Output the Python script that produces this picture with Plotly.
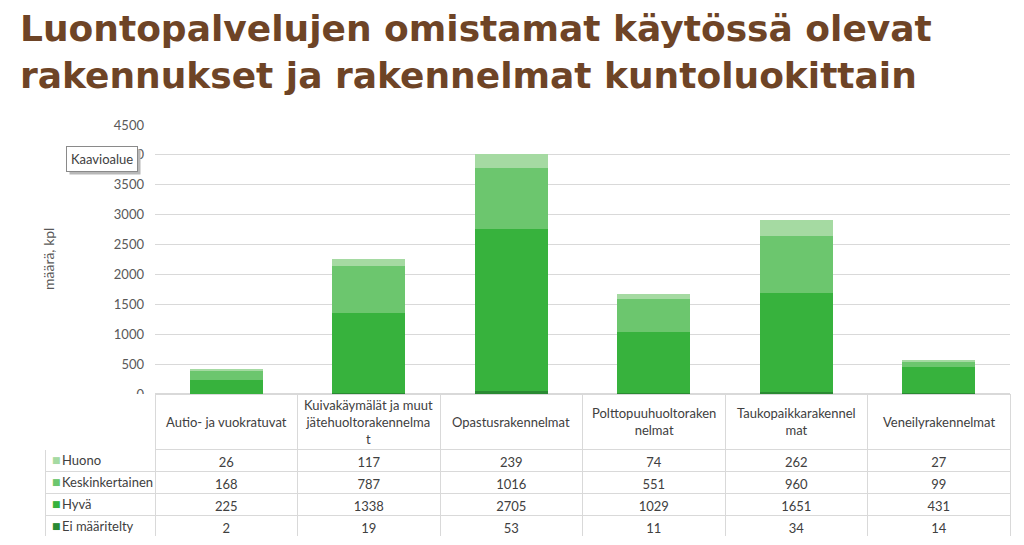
import plotly.graph_objects as go

W, H = 1024, 545

categories = ["Autio- ja vuokratuvat", "Kuivakäymälät ja muut jätehuoltorakennelmat",
              "Opastusrakennelmat", "Polttopuuhuoltorakennelmat",
              "Taukopaikkarakennelmat", "Veneilyrakennelmat"]
category_labels = ["Autio- ja vuokratuvat", "Kuivakäymälät ja muut<br>jätehuoltorakennelma<br>t",
                   "Opastusrakennelmat", "Polttopuuhuoltoraken<br>nelmat",
                   "Taukopaikkarakennel<br>mat", "Veneilyrakennelmat"]
series_names = ["Huono", "Keskinkertainen", "Hyvä", "Ei määritelty"]
huono = [26, 117, 239, 74, 262, 27]
keskinkertainen = [168, 787, 1016, 551, 960, 99]
hyva = [225, 1338, 2705, 1029, 1651, 431]
ei_maaritelty = [2, 19, 53, 11, 34, 14]
y_ticks = [0, 500, 1000, 1500, 2000, 2500, 3000, 3500, 4000, 4500]

colors = {"Huono": "#a5daa2", "Keskinkertainen": "#6cc66e",
          "Hyvä": "#37b23d", "Ei määritelty": "#2a8a33"}
series_values = {"Huono": huono, "Keskinkertainen": keskinkertainen,
                 "Hyvä": hyva, "Ei määritelty": ei_maaritelty}

TXT = "#404040"
GRID = "#d9d9d9"
FONT = "Lato"

# layout geometry (pixels)
px_left, px_right = 155, 1010
py_top, py_bottom = 125, 394
tbl_left, tbl_bottom = 45, 537
hdr_h = 55


def fx(p):
    return p / W


def fy(p):
    return 1 - p / H


fig = go.Figure()

for name in reversed(series_names):
    fig.add_trace(go.Bar(x=categories, y=series_values[name], name=name,
                         marker=dict(color=colors[name], line=dict(width=0)),
                         showlegend=False))

# data table
cols = [[""] * len(series_names)] + [[series_values[n][i] for n in series_names]
                                      for i in range(len(categories))]
colw = [px_left - tbl_left] + [(px_right - px_left) / len(categories)] * len(categories)
row_h = (tbl_bottom - py_bottom - hdr_h) / len(series_names)

fig.add_trace(go.Table(
    domain=dict(x=[fx(tbl_left), fx(px_right)], y=[fy(tbl_bottom), fy(py_bottom)]),
    columnwidth=colw,
    header=dict(values=[""] * (len(categories) + 1), height=hdr_h,
                line=dict(color=["white"] + [GRID] * len(categories), width=1),
                fill=dict(color="white")),
    cells=dict(values=cols, height=row_h,
               align=["left"] + ["center"] * len(categories),
               line=dict(color=GRID, width=1), fill=dict(color="white"),
               font=dict(family=FONT, size=13, color=TXT)),
))

annotations = []
for cat, lab in zip(categories, category_labels):
    annotations.append(dict(x=cat, xref="x", y=fy(py_bottom + hdr_h / 2), yref="paper",
                            text=lab, showarrow=False, xanchor="center", yanchor="middle",
                            font=dict(family=FONT, size=13, color=TXT)))

# first table column: legend keys
for k, n in enumerate(series_names):
    yc = py_bottom + hdr_h + row_h * (k + 0.5)
    annotations.append(dict(x=fx(tbl_left + 5), y=fy(yc), xref="paper", yref="paper",
                            text="■", showarrow=False, xanchor="left", yanchor="middle",
                            font=dict(family="DejaVu Sans", size=9, color=colors[n])))
    annotations.append(dict(x=fx(tbl_left + 15), y=fy(yc), xref="paper", yref="paper",
                            text=n, showarrow=False, xanchor="left", yanchor="middle",
                            font=dict(family=FONT, size=13, color=TXT)))

# y axis title
annotations.append(dict(x=fx(48), y=fy(259), xref="paper", yref="paper", text="määrä, kpl",
                        textangle=-90, showarrow=False, xanchor="center", yanchor="middle",
                        font=dict(family=FONT, size=14, color="#595959")))

# "Kaavioalue" tooltip
annotations.append(dict(x=fx(69), y=fy(162), xref="paper", yref="paper", text="Kaavioalue",
                        showarrow=False, xanchor="left", yanchor="middle",
                        bgcolor="#b8b8b8", borderpad=4,
                        font=dict(family=FONT, size=13, color="rgba(0,0,0,0)")))
annotations.append(dict(x=fx(66), y=fy(159), xref="paper", yref="paper", text="Kaavioalue",
                        showarrow=False, xanchor="left", yanchor="middle",
                        bgcolor="white", bordercolor="#8a8a8a", borderwidth=1, borderpad=4,
                        font=dict(family=FONT, size=13, color="#404040")))

# title
annotations.append(dict(x=fx(18), y=fy(6), xref="paper", yref="paper",
                        text="Luontopalvelujen omistamat käytössä olevat<br>"
                             "rakennukset ja rakennelmat kuntoluokittain",
                        showarrow=False, xanchor="left", yanchor="top", align="left",
                        font=dict(family="DejaVu Sans", size=36, color="#6e4426", weight="bold")))

fig.update_layout(
    width=W, height=H,
    margin=dict(l=0, r=0, t=0, b=0, autoexpand=False),
    paper_bgcolor="white", plot_bgcolor="white",
    barmode="stack", bargap=0.49,
    xaxis=dict(domain=[fx(px_left), fx(px_right)], showticklabels=False, ticks="",
               showgrid=False, showline=False, zeroline=False, fixedrange=True,
               automargin=False),
    yaxis=dict(domain=[fy(py_bottom), fy(py_top)], range=[0, 4500],
               tickvals=y_ticks, ticktext=[str(v) for v in y_ticks],
               showgrid=True, gridcolor=GRID, gridwidth=1, zeroline=True, zerolinecolor=GRID,
               ticks="", ticklabelstandoff=10, automargin=False,
               tickfont=dict(family=FONT, size=13, color="#595959"), showline=False),
    annotations=annotations,
)

fig.write_html("out.html", config={"displayModeBar": False},
               post_script="document.body.style.margin='0';document.body.style.overflow='hidden';")
